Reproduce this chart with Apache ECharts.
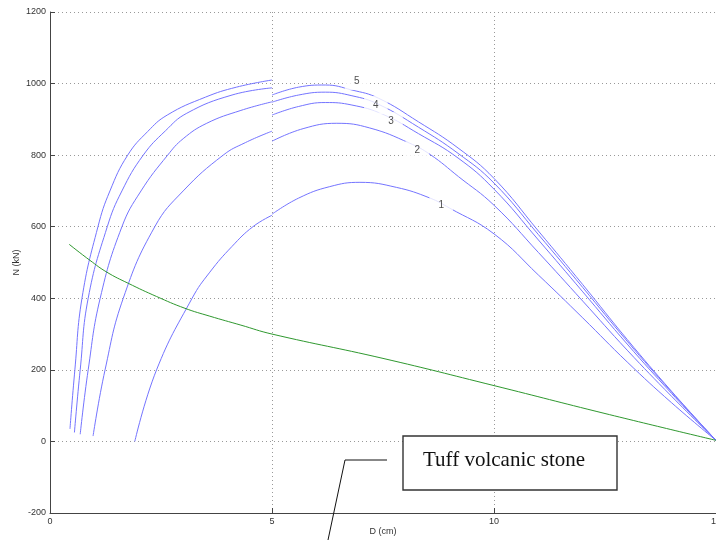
<!DOCTYPE html>
<html><head><meta charset="utf-8">
<script src="https://cdn.jsdelivr.net/npm/echarts@6/dist/echarts.min.js"></script>
<style>html,body{margin:0;padding:0;background:#fff}#c{width:716px;height:540px}</style>
</head><body><div id="c"></div>
<script>
// ---- data ----
const xTicks = [0, 5, 10, 15];
const yTicks = [-200, 0, 200, 400, 600, 800, 1000, 1200];

const c5LeftD = [0.45, 0.56, 0.72, 1.08, 1.35, 1.75, 2.2, 2.64, 3.5, 4.2, 5.0];
const c5LeftN = [35, 200, 400, 600, 700, 800, 866, 912, 962, 990, 1010];
const c4LeftD = [0.55, 0.68, 0.86, 1.29, 1.62, 2.1, 2.6, 3.08, 4.1, 5.0];
const c4LeftN = [25, 200, 400, 600, 700, 800, 868, 917, 968, 988];
const c3LeftD = [0.68, 0.86, 1.13, 1.62, 2.05, 2.65, 3.0, 3.53, 4.3, 5.0];
const c3LeftN = [20, 200, 400, 600, 700, 800, 846, 889, 925, 949];
const c2LeftD = [0.97, 1.24, 1.65, 2.36, 3.0, 3.9, 4.4, 5.0];
const c2LeftN = [15, 200, 400, 600, 700, 800, 835, 867];
const c1LeftD = [1.91, 2.4, 3.2, 3.6, 4.1, 4.57, 5.0];
const c1LeftN = [0, 200, 400, 473, 545, 600, 632];

const c5RightD = [5.0, 5.6, 6.2, 6.8, 7.4, 8.3, 9.19, 10, 11, 12, 13, 14, 15];
const c5RightN = [968, 990, 996, 982, 959, 893, 820, 735, 588, 438, 285, 140, 3];
const c4RightD = [5.0, 5.6, 6.2, 6.8, 7.4, 8.3, 9.19, 10, 11, 12, 13, 14, 15];
const c4RightN = [948, 968, 976, 966, 942, 878, 805, 722, 578, 430, 280, 138, 3];
const c3RightD = [5.0, 5.6, 6.2, 6.8, 7.5, 8.3, 9.19, 10, 11, 12, 13, 14, 15];
const c3RightN = [912, 936, 947, 940, 914, 860, 792, 705, 563, 418, 272, 134, 3];
const c2RightD = [5.0, 5.7, 6.46, 7.2, 8.09, 8.56, 9.2, 10, 11, 12, 13, 14, 15];
const c2RightN = [839, 874, 889, 876, 834, 802, 740, 660, 528, 392, 255, 126, 3];
const c1RightD = [5.0, 5.6, 6.3, 6.98, 7.8, 8.56, 9.0, 10, 11, 12, 13, 14, 15];
const c1RightN = [635, 680, 712, 724, 710, 680, 652, 580, 465, 345, 222, 108, 3];

const tuffD = [0.43, 0.9, 1.28, 1.76, 2.4, 3.04, 3.6, 4.3, 5, 7.5, 10, 12.5, 15];
const tuffN = [551, 506, 473, 442, 405, 372, 350, 325, 300, 232, 156, 78, 3];

const labelText = ['5', '4', '3', '2', '1'];
const labelD = [6.91, 7.34, 7.68, 8.27, 8.81];
const labelN = [1007, 940, 895, 814, 660];

const annotationText = 'Tuff volcanic stone';

// ---- build chart ----
const pairs = (D, N) => D.map((d, i) => [d, N[i]]);
const blue = '#7474ff';
function curve(D, N, color) {
  return {
    type: 'line', data: pairs(D, N), symbol: 'none', showSymbol: false,
    smooth: 0.45, silent: true, z: 2,
    lineStyle: { color: color, width: 1 }
  };
}
const series = [
  curve(c5LeftD, c5LeftN, blue), curve(c4LeftD, c4LeftN, blue),
  curve(c3LeftD, c3LeftN, blue), curve(c2LeftD, c2LeftN, blue),
  curve(c1LeftD, c1LeftN, blue),
  curve(c5RightD, c5RightN, blue), curve(c4RightD, c4RightN, blue),
  curve(c3RightD, c3RightN, blue), curve(c2RightD, c2RightN, blue),
  curve(c1RightD, c1RightN, blue),
  curve(tuffD, tuffN, '#2f982f'),
  {
    type: 'scatter', z: 10, silent: true, symbolSize: 0.1,
    itemStyle: { color: 'rgba(0,0,0,0)' },
    data: labelD.map((d, i) => ({ value: [d, labelN[i]], name: labelText[i] })),
    label: {
      show: true, position: 'inside', formatter: '{b}',
      color: '#222', fontSize: 10, fontFamily: 'Liberation Sans',
      backgroundColor: '#fff', padding: [4, 9]
    }
  }
];

const axisText = { color: '#333', fontSize: 9, fontFamily: 'Liberation Sans' };
const plain = v => String(v);
const chart = echarts.init(document.getElementById('c'), null, { renderer: 'canvas' });
chart.setOption({
  animation: false,
  backgroundColor: '#fff',
  grid: { left: 50, right: 0, top: 12, bottom: 27, containLabel: false, outerBoundsMode: 'none' },
  xAxis: {
    type: 'value', min: xTicks[0], max: xTicks[xTicks.length - 1], interval: 5,
    name: 'D (cm)', nameLocation: 'middle', nameGap: 14, nameMoveOverlap: false,
    nameTextStyle: axisText,
    axisLine: { onZero: false, lineStyle: { color: '#444', width: 1 } },
    axisTick: { inside: true, length: 5, lineStyle: { color: '#444' } },
    axisLabel: Object.assign({ margin: 4, formatter: plain, hideOverlap: false }, axisText),
    splitLine: { show: true, lineStyle: { color: '#999', type: [1, 3], width: 1 } }
  },
  yAxis: {
    type: 'value', min: yTicks[0], max: yTicks[yTicks.length - 1], interval: 200,
    name: 'N (kN)', nameLocation: 'middle', nameGap: 29, nameMoveOverlap: false,
    nameTextStyle: axisText,
    axisLine: { show: true, onZero: false, lineStyle: { color: '#444', width: 1 } },
    axisTick: { show: true, inside: true, length: 5, lineStyle: { color: '#444' } },
    axisLabel: Object.assign({ margin: 4, formatter: plain }, axisText),
    splitLine: { show: true, lineStyle: { color: '#999', type: [1, 3], width: 1 } }
  },
  series: series,
  graphic: [
    {
      type: 'polyline', z: 20, silent: true,
      shape: { points: [[387, 460], [345, 460], [328, 540]] },
      style: { stroke: '#111', lineWidth: 1, fill: null }
    },
    {
      type: 'rect', z: 20, silent: true,
      shape: { x: 403, y: 436, width: 214, height: 54 },
      style: { fill: '#fff', stroke: '#333', lineWidth: 1.4 }
    },
    {
      type: 'text', z: 21, silent: true,
      style: {
        x: 423, y: 460.5, text: annotationText,
        font: '21px "Liberation Serif"', fill: '#111',
        textAlign: 'left', textVerticalAlign: 'middle'
      }
    }
  ]
});
</script></body></html>
